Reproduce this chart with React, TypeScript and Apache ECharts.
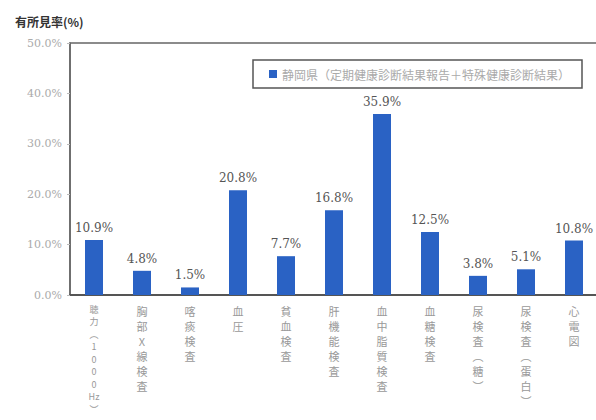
import React, { useEffect, useRef } from "react";
import * as echarts from "echarts";

const categories = [
  "聴力（1000Hz）",
  "胸部X線検査",
  "喀痰検査",
  "血圧",
  "貧血検査",
  "肝機能検査",
  "血中脂質検査",
  "血糖検査",
  "尿検査（糖）",
  "尿検査（蛋白）",
  "心電図",
];
const values = [10.9, 4.8, 1.5, 20.8, 7.7, 16.8, 35.9, 12.5, 3.8, 5.1, 10.8];
const seriesName = "静岡県（定期健康診断結果報告＋特殊健康診断結果）";
const yTicks = [0, 10, 20, 30, 40, 50];
const yTitle = "有所見率(%)";

const toVertical = (s: string) => {
  const parts: string[] = [];
  let i = 0;
  while (i < s.length) {
    if (s.startsWith("Hz", i)) {
      parts.push("Hz");
      i += 2;
    } else {
      let ch = s[i];
      if (ch === "（") ch = "︵";
      if (ch === "）") ch = "︶";
      parts.push(ch);
      i += 1;
    }
  }
  return parts;
};

export default function App() {
  const ref = useRef<HTMLDivElement>(null);
  useEffect(() => {
    if (!ref.current) return;
    const chart = echarts.init(ref.current, undefined, { renderer: "svg" });
    const serif = "'DejaVu Serif', 'Liberation Serif', 'Noto Sans CJK JP', serif";
    const jp = "'Noto Sans CJK JP', sans-serif";
    chart.setOption({
      animation: false,
      backgroundColor: "#ffffff",
      title: {
        text: yTitle,
        left: 10,
        top: 10,
        textStyle: { fontSize: 12, fontWeight: "bold", color: "#333", fontFamily: jp },
      },
      legend: {
        left: 253,
        top: 60,
        width: 330,
        padding: [8, 12, 8, 16],
        borderColor: "#555",
        borderWidth: 1.5,
        icon: "rect",
        itemWidth: 8,
        itemHeight: 8,
        itemGap: 4,
        textStyle: { fontSize: 12, color: "#aaa", fontFamily: jp },
        data: [seriesName],
      },
      grid: {
        left: 70,
        right: -2,
        top: 43,
        bottom: 125,
        show: true,
        borderColor: "#666",
        borderWidth: 1.5,
        containLabel: false,
        outerBoundsMode: "none",
      },
      xAxis: {
        type: "category",
        data: categories,
        axisLine: { lineStyle: { color: "#555", width: 2 } },
        axisTick: { show: false },
        axisLabel: {
          interval: 0,
          margin: 8,
          color: "#999",
          fontSize: 11,
          lineHeight: 15,
          fontFamily: jp,
          verticalAlign: "top",
          formatter: (v: string) => {
            const parts = toVertical(v);
            if (parts.length > 8) {
              return parts.map((p) => `{c|${p}}`).join("\n");
            }
            return parts.join("\n");
          },
          rich: {
            c: { fontSize: 9, lineHeight: 12.5, color: "#999", fontFamily: jp },
          },
        },
      },
      yAxis: {
        type: "value",
        min: 0,
        max: 50,
        interval: 10,
        splitLine: { show: false },
        axisLine: { show: true, lineStyle: { color: "#666", width: 1.5 } },
        axisTick: { show: true, length: 3, lineStyle: { color: "#bbb" } },
        axisLabel: {
          color: "#aaa",
          fontSize: 11,
          margin: 8,
          fontFamily: serif,
          formatter: (v: number) => (yTicks.includes(v) ? v.toFixed(1) + "%" : ""),
        },
      },
      series: [
        {
          name: seriesName,
          type: "bar",
          data: values,
          barWidth: 18,
          itemStyle: { color: "#2a62c4" },
          label: {
            show: true,
            position: "top",
            distance: 6,
            color: "#555",
            fontSize: 12,
            fontFamily: serif,
            formatter: (p: { value: number }) => p.value.toFixed(1) + "%",
          },
        },
      ],
    });
    return () => chart.dispose();
  }, []);
  return <div ref={ref} style={{ width: 596, height: 420, position: "fixed", left: 0, top: 0 }} />;
}
